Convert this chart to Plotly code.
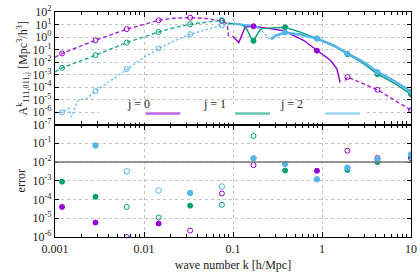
import plotly.graph_objects as go

# ---------------- data ----------------
K_MARK = [0.0012, 0.00285, 0.0064, 0.0146, 0.033, 0.075, 0.17, 0.385, 0.877, 1.93, 4.2, 10.0]
X_TICKS = [0.001, 0.01, 0.1, 1, 10]
X_TICKTEXT = ["0.001", "0.01", "0.1", "1", "10"]
X_MINOR_DIGITS = [2, 3, 4, 5, 6, 7, 8, 9]
Y1_EXP = [2, 1, 0, -1, -2, -3, -4, -5, -6, -7]
Y2_EXP = [-1, -2, -3, -4, -5, -6]
LABELS = ["j = 0", "j = 1", "j = 2"]
COLORS = ["#9400d3", "#009e73", "#56b4e9"]

# j = 0 curves (|A|; dashed = negative, solid = positive)
J0_NEG1_K = [0.001, 0.0012, 0.00285, 0.0064, 0.0146, 0.0219, 0.033, 0.050, 0.075, 0.0857, 0.0894]
J0_NEG1_V = [2.4e-2, 4.8e-2, 5.5e-1, 4.2, 22.0, 32.0, 35.5, 30.0, 19.0, 11.7, 1.0]
J0_POS_K = [0.099, 0.116, 0.137, 0.17, 0.26, 0.37, 0.62, 0.877, 1.24, 1.47, 1.6]
J0_POS_V = [1.2, 0.355, 6.3, 7.2, 4.7, 3.2, 0.55, 0.081, 0.0138, 0.0028, 0.000224]
J0_NEG2_K = [1.82, 1.93, 4.2, 10.0]
J0_NEG2_V = [3.2e-4, 6.3e-4, 6.0e-5, 1.4e-6]

# j = 1 curves
J1_NEG_K = [0.001, 0.0012, 0.00285, 0.0064, 0.0146, 0.0219, 0.033, 0.050, 0.075, 0.09]
J1_NEG_V = [1.6e-3, 3.4e-3, 3.5e-2, 3.6e-1, 2.5, 5.6, 10.5, 15.8, 21.9, 12.6]
J1_POS_K = [0.09, 0.126, 0.143, 0.163, 0.17, 0.194, 0.21, 0.286, 0.385, 0.56, 0.877, 1.36, 1.93, 2.96, 4.2, 6.8, 10.0]
J1_POS_V = [12.6, 9.8, 4.2, 0.63, 0.49, 2.5, 4.7, 5.6, 6.0, 2.6, 0.76, 0.19, 0.042, 7.1e-3, 1.07e-3, 1.66e-4, 2.6e-5]

# j = 2 curves
J2_NEG1_K = [0.001, 0.0012, 0.00143, 0.00153, 0.00163, 0.00177, 0.00193, 0.0023, 0.00285, 0.0064,
             0.0104, 0.0146, 0.022, 0.033, 0.05, 0.075, 0.099]
J2_NEG1_V = [8.9e-7, 9.3e-7, 2.0e-6, 4.0e-7, 1.26e-6, 6.6e-6, 1.0e-5, 1.26e-5, 4.7e-5, 2.7e-3,
             2.8e-2, 1.2e-1, 0.5, 1.66, 4.0, 8.7, 11.7]
J2_POS1_K = [0.099, 0.13, 0.17, 0.194]
J2_POS1_V = [11.7, 8.9, 7.6, 5.6]
J2_NEG2_K = [0.194, 0.21, 0.24, 0.268]
J2_NEG2_V = [5.6, 3.2, 1.26, 0.55]
J2_POS2_K = [0.268, 0.3, 0.385, 0.56, 0.877, 1.36, 1.93, 2.96, 4.2, 6.8, 10.0]
J2_POS2_V = [0.63, 1.26, 2.3, 1.58, 0.76, 0.21, 0.048, 9.5e-3, 1.6e-3, 2.5e-4, 4.2e-5]

# markers on the top panel (None = no marker); FILL 1 = filled, 0 = open
A0_MARK = [4.8e-2, 5.5e-1, 4.2, 22.0, 35.5, 19.0, 7.2, None, 8.1e-2, 6.3e-4, 6.0e-5, 1.4e-6]
A0_FILL = [0, 0, 0, 0, 0, 0, 1, 0, 1, 0, 0, 0]
A1_MARK = [3.4e-3, 3.5e-2, 3.6e-1, 2.5, 10.5, 21.9, 0.49, 6.0, 0.76, 0.042, 1.07e-3, 2.6e-5]
A1_FILL = [0, 0, 0, 0, 0, 0, 1, 1, 1, 1, 1, 1]
A2_MARK = [9.3e-7, 4.7e-5, 2.7e-3, 1.2e-1, 1.66, 8.7, None, 2.3, 0.76, 0.048, 1.6e-3, 4.2e-5]
A2_FILL = [0, 0, 0, 0, 0, 0, 1, 1, 1, 1, 1, 1]

# errors (bottom panel)
E0 = [4.0e-5, 5.9e-6, 1.0e-6, 5.2e-6, 2.2e-6, 2.1e-4, 6.8e-3, None, 3.4e-3, 4.0e-2, 1.6e-2, 1.6e-2]
E0_FILL = [1, 1, 0, 1, 0, 0, 0, 0, 1, 0, 0, 0]
E1 = [8.9e-4, 1.4e-4, 4.0e-5, 1.1e-5, 4.7e-5, 5.2e-5, 0.245, 3.5e-3, None, 3.8e-3, 1.0e-2, 2.0e-2]
E1_FILL = [1, 1, 0, 0, 1, 0, 0, 1, 1, 1, 1, 1]
E2 = [None, 7.6e-2, 3.2e-3, 3.0e-4, 2.2e-4, 4.9e-4, 1.6e-2, 7.9e-3, 1.2e-3, 5.0e-3, 1.35e-2, 2.5e-2]
E2_FILL = [0, 1, 0, 0, 1, 0, 1, 1, 1, 1, 1, 1]
ERR_REF = 1e-2

FONT = "Liberation Serif"

fig = go.Figure()


def rgba(hexc, a):
    h = hexc.lstrip("#")
    return "rgba(%d,%d,%d,%s)" % (int(h[0:2], 16), int(h[2:4], 16), int(h[4:6], 16), a)


def line(k, v, color, dashed, width=1.4, dash="4px,2.5px", xa="x", ya="y"):
    fig.add_trace(go.Scatter(
        x=k, y=v, mode="lines", xaxis=xa, yaxis=ya, showlegend=False,
        line=dict(color=rgba(color, 0.85) if dashed else color, width=width,
                  dash=dash if dashed else "solid"),
        hoverinfo="skip"))


def markers(vals, fills, color, xa, ya, size=5):
    for filled in (0, 1):
        ks = [k for k, v, f in zip(K_MARK, vals, fills) if v is not None and f == filled]
        vs = [v for v, f in zip(vals, fills) if v is not None and f == filled]
        if not ks:
            continue
        fig.add_trace(go.Scatter(
            x=ks, y=vs, mode="markers", xaxis=xa, yaxis=ya, showlegend=False,
            marker=dict(symbol="circle" if filled else "circle-open", size=size,
                        color=color, line=dict(color=color, width=1))))


c0, c1, c2 = COLORS
line(J0_NEG1_K, J0_NEG1_V, c0, True)
line(J0_POS_K, J0_POS_V, c0, False)
line(J0_NEG2_K, J0_NEG2_V, c0, True)
line(J1_NEG_K, J1_NEG_V, c1, True)
line(J1_POS_K, J1_POS_V, c1, False)
line(J2_NEG1_K, J2_NEG1_V, c2, True, dash="2.5px,2px")
line(J2_POS1_K, J2_POS1_V, c2, False, width=2.2)
line(J2_NEG2_K, J2_NEG2_V, c2, True, dash="2.5px,2px")
line(J2_POS2_K, J2_POS2_V, c2, False, width=2.6)
markers(A0_MARK, A0_FILL, c0, "x", "y")
markers(A1_MARK, A1_FILL, c1, "x", "y")
markers(A2_MARK, A2_FILL, c2, "x", "y")

markers(E1, E1_FILL, c1, "x2", "y2")
markers(E0, E0_FILL, c0, "x2", "y2")
markers(E2, E2_FILL, c2, "x2", "y2", size=5.5)

# reference line at error = 1e-2
fig.add_shape(type="line", xref="x2 domain", yref="y2", x0=0, x1=1, y0=ERR_REF, y1=ERR_REF,
              line=dict(color="#777777", width=1.5))

# manual legend (text then line sample)
fig.add_shape(type="rect", xref="x domain", yref="y domain", x0=0.122, x1=0.874, y0=0.015, y1=0.185,
              fillcolor="white", line=dict(width=0), layer="above")
text_x = [0.198, 0.447, 0.703]
line_x = [(0.254, 0.352), (0.506, 0.604), (0.759, 0.857)]
for lab, col, tx, (l0, l1) in zip(LABELS, COLORS, text_x, line_x):
    fig.add_annotation(text=lab, xref="x domain", yref="y domain", x=tx, y=0.098,
                       showarrow=False, font=dict(family=FONT, size=12, color="#222"))
    fig.add_shape(type="line", xref="x domain", yref="y domain", x0=l0, x1=l1, y0=0.098, y1=0.098,
                  line=dict(color=rgba(col, 0.6), width=2.5), layer="above")

minor_vals = [d * t for t in X_TICKS[:-1] for d in X_MINOR_DIGITS]

grid = dict(showgrid=True, gridcolor="#c4c4c4", griddash="dot", gridwidth=1)
common_x = dict(type="log", range=[-3, 1], autorange=False, automargin=False, showline=True,
                linecolor="black", linewidth=1.3, mirror="allticks", ticks="inside", ticklen=5,
                tickcolor="black", tickmode="array", tickvals=X_TICKS, ticktext=X_TICKTEXT,
                minor=dict(ticks="inside", ticklen=3, tickcolor="black", showgrid=False,
                           tickmode="array", tickvals=minor_vals),
                tickfont=dict(family=FONT, size=12, color="#222"), **grid)
common_y = dict(type="log", autorange=False, automargin=False, showline=True, linecolor="black",
                linewidth=1.3, mirror="allticks", ticks="inside", ticklen=4, tickcolor="black",
                tickmode="array", tickfont=dict(family=FONT, size=12, color="#222"), **grid)

fig.update_layout(
    width=420, height=280,
    margin=dict(l=55, r=9, t=12, b=43, autoexpand=False),
    paper_bgcolor="white", plot_bgcolor="white",
    showlegend=False,
    font=dict(family=FONT, size=12, color="#222"),
    xaxis=dict(anchor="y", showticklabels=False, **common_x),
    yaxis=dict(domain=[0.5, 1.0], anchor="x", range=[-7, 2],
               tickvals=[10.0 ** e for e in Y1_EXP],
               ticktext=["10<sup>%d</sup>" % e for e in Y1_EXP],
               title=dict(text="A<sup>k</sup><sub>111,011,j</sub> [Mpc<sup>3</sup>/h<sup>3</sup>]",
                          font=dict(family=FONT, size=12), standoff=2),
               **common_y),
    xaxis2=dict(anchor="y2",
                title=dict(text="wave number k [h/Mpc]", font=dict(family=FONT, size=12), standoff=6),
                **common_x),
    yaxis2=dict(domain=[0.0, 0.5], anchor="x2", range=[-6, 0],
                tickvals=[10.0 ** e for e in Y2_EXP],
                ticktext=["10<sup>%d</sup>" % e for e in Y2_EXP],
                title=dict(text="error", font=dict(family=FONT, size=12), standoff=4),
                **common_y),
)

fig.write_html("out.html", config={"displayModeBar": False},
               post_script="document.body.style.margin='0px';document.body.style.padding='0px';")
